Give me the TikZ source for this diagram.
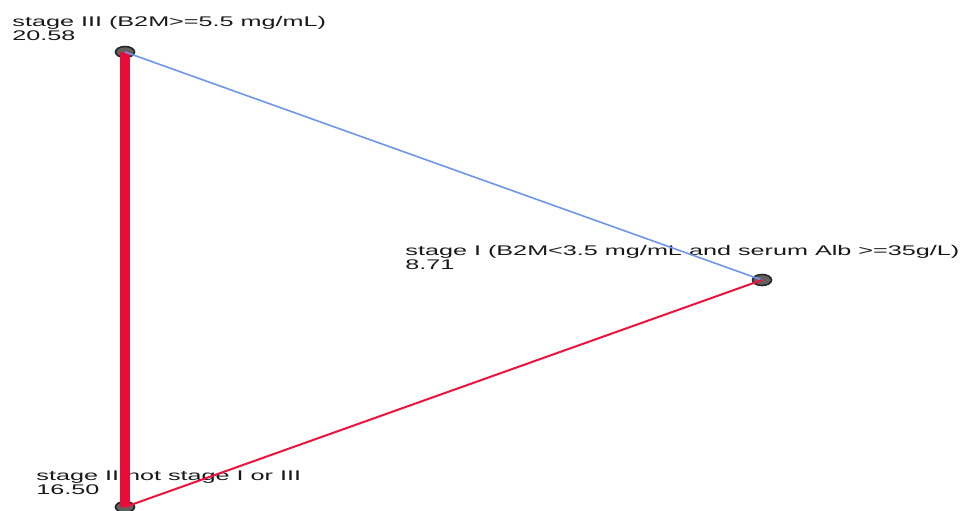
\documentclass[tikz,border=0pt]{standalone}
\usepackage{fontspec}
\setmainfont{Liberation Sans}
\usetikzlibrary{shapes.geometric}
\definecolor{thickred}{RGB}{232,12,56}
\definecolor{thinred}{RGB}{236,20,60}
\definecolor{lineblue}{RGB}{110,150,235}
\definecolor{nodegrey}{RGB}{100,96,96}
\tikzset{
  lbl/.style={anchor=base west, inner sep=0pt, font=\fontsize{7pt}{8pt}\selectfont, text=black!90},
  vert/.style={ellipse, draw=black!85, line width=0.8pt, fill=nodegrey, minimum width=9.5pt, minimum height=5.5pt, inner sep=0pt},
  heavy/.style={draw=thickred, line width=5pt},
  bluelink/.style={draw=lineblue, line width=0.8pt},
  redlink/.style={draw=thinred, line width=1pt}
}
\newcommand{\wide}[1]{\scalebox{1.8}[1]{#1}}
\begin{document}
\begin{tikzpicture}[x=0.5pt,y=-0.5pt]
\useasboundingbox (0,0) rectangle (972,510);
% labels
\node[lbl] (l3a) at (12,26) {\wide{stage III (B2M>=5.5 mg/mL)}};
\node[lbl] (l3b) at (12,40) {\wide{20.58}};
\node[lbl] (l1a) at (405,255) {\wide{stage I (B2M<3.5 mg/mL and serum Alb >=35g/L)}};
\node[lbl] (l1b) at (405,269) {\wide{8.71}};
\node[lbl] (l2a) at (36,480) {\wide{stage II not stage I or III}};
\node[lbl] (l2b) at (36,494) {\wide{16.50}};
% vertices
\node[vert] (s3) at (125,52) {};
\node[vert] (s1) at (762,280) {};
\node[vert] (s2) at (125,507) {};
% links
\draw[heavy] (s3.center) -- (s2.center);
\draw[bluelink] (s3.center) -- (s1.center);
\draw[redlink] (s2.center) -- (s1.center);
\end{tikzpicture}
\end{document}
